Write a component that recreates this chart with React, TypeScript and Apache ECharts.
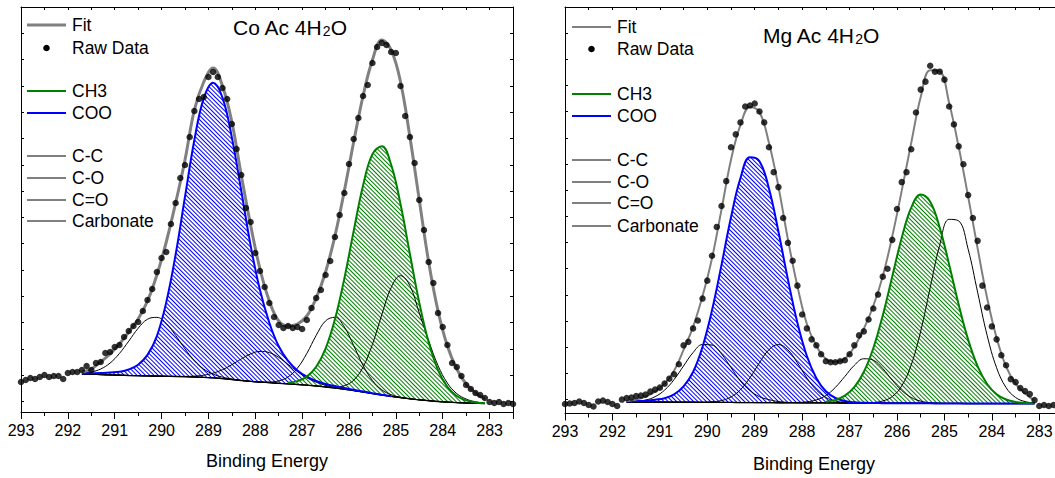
import React, { useEffect, useRef } from "react";
import * as echarts from "echarts";

// ---------- data ----------
// Raw-data energies (eV), 0.1 eV steps
const RAW_E = [
  293.0, 292.9, 292.8, 292.7, 292.6, 292.5, 292.4, 292.3, 292.2, 292.1,
  292.0, 291.9, 291.8, 291.7, 291.6, 291.5, 291.4, 291.3, 291.2, 291.1,
  291.0, 290.9, 290.8, 290.7, 290.6, 290.5, 290.4, 290.3, 290.2, 290.1,
  290.0, 289.9, 289.8, 289.7, 289.6, 289.5, 289.4, 289.3, 289.2, 289.1,
  289.0, 288.9, 288.8, 288.7, 288.6, 288.5, 288.4, 288.3, 288.2, 288.1,
  288.0, 287.9, 287.8, 287.7, 287.6, 287.5, 287.4, 287.3, 287.2, 287.1,
  287.0, 286.9, 286.8, 286.7, 286.6, 286.5, 286.4, 286.3, 286.2, 286.1,
  286.0, 285.9, 285.8, 285.7, 285.6, 285.5, 285.4, 285.3, 285.2, 285.1,
  285.0, 284.9, 284.8, 284.7, 284.6, 284.5, 284.4, 284.3, 284.2, 284.1,
  284.0, 283.9, 283.8, 283.7, 283.6, 283.5, 283.4, 283.3, 283.2, 283.1,
  283.0, 282.9, 282.8, 282.7, 282.6, 282.5,
];

// Fit / component energies (eV), 0.2 eV steps
const FIT_E = [
  291.7, 291.5, 291.3, 291.1, 290.9, 290.7, 290.5, 290.3, 290.1, 289.9,
  289.7, 289.5, 289.3, 289.1, 288.9, 288.7, 288.5, 288.3, 288.1, 287.9,
  287.7, 287.5, 287.3, 287.1, 286.9, 286.7, 286.5, 286.3, 286.1, 285.9,
  285.7, 285.5, 285.3, 285.1, 284.9, 284.7, 284.5, 284.3, 284.1, 283.9,
  283.7, 283.5, 283.3, 283.1,
];

const X_TICKS = [293, 292, 291, 290, 289, 288, 287, 286, 285, 284, 283];
const LEGEND_NAMES = ["Fit", "Raw Data", "CH3", "COO", "C-C", "C-O", "C=O", "Carbonate"];
const TITLE_CO = ["Co Ac 4H", "2", "O"];
const TITLE_MG = ["Mg Ac 4H", "2", "O"];
const X_NAME = "Binding Energy";

// ----- Co acetate panel (intensity, arbitrary units) -----
const CO_RAW = [
  30, 32, 34, 33, 35, 37, 35, 36, 36, 33,
  39, 40, 40, 42, 46, 42, 49, 50, 59, 60,
  65, 67, 75, 81, 86, 90, 101, 112, 123, 140,
  154, 160, 188, 209, 234, 247, 275, 301, 313, 315,
  335, 340, 335, 324, 313, 288, 263, 237, 204, 190,
  159, 141, 125, 109, 95, 87, 84, 86, 84, 85,
  83, 92, 104, 114, 122, 137, 151, 175, 197, 219,
  248, 273, 294, 316, 327, 349, 365, 369, 367, 360,
  359, 326, 296, 275, 249, 212, 182, 150, 129, 99,
  85, 67, 49, 45, 36, 27, 23, 19, 17, 14,
  10, 9, 10, 8, 9, 8,
];
const CO_FIT = [
  40, 43, 50, 58, 68, 80, 93, 111, 137, 170,
  209, 252, 302, 330, 344, 326, 290, 237, 187, 143,
  111, 91, 86, 88, 96, 114, 140, 176, 221, 270,
  316, 352, 372, 362, 330, 275, 212, 150, 101, 66,
  43, 28, 19, 13,
];
const CO_BASE = [
  38, 37.7, 37.4, 37.1, 36.8, 36.5, 36.3, 36.1, 35.9, 35.7,
  35.5, 35.3, 35.0, 34.6, 34.2, 33.4, 32.5, 31.5, 30.6, 29.9,
  29.3, 28.7, 28.1, 27.5, 26.8, 26.0, 25.0, 23.9, 22.7, 21.4,
  20.0, 18.5, 17.0, 15.6, 14.3, 13.2, 12.2, 11.3, 10.5, 9.9,
  9.4, 9.0, 8.7, 8.5,
];
// component heights above the background
const CO_COO = [
  0.5, 1, 1.5, 2.5, 3.5, 6, 11, 21, 40, 74,
  122, 180, 237, 279, 295, 281, 242, 190, 136, 92,
  60, 37, 23, 14, 8.5, 5, 3, 2, 1.2, 0.8,
  0.5, 0.3, 0.2, 0.1, null, null, null, null, null, null,
  null, null, null, null,
];
const CO_CH3 = [
  null, null, null, null, null, null, null, null, null, null,
  null, null, null, null, null, null, null, null, null, null,
  null, null, 1.2, 3.4, 8.6, 19.2, 38.4, 68.9, 110.7, 159.7,
  206.5, 239.4, 248.7, 231.6, 193.4, 144.8, 97.2, 58.4, 31.5, 15.2,
  6.6, 2.6, 0.9, 0.3,
];
const CO_CC = [
  0, 0, 0, 0, 0, 0, 0, 0, 0, 0,
  0, 0, 0, 0, 0, 0, 0, 0, 0, 0,
  0, 0, 0, 0, 0, 0, 0.25, 1.0, 3.6, 10.4,
  24.9, 49.2, 80.4, 108.8, 122, 113, 86.7, 60, 36, 19,
  9, 4, 1.5, 0.5,
];
const CO_CO = [
  0, 0, 0, 0, 0, 0, 0, 0, 0, 0,
  0, 0, 0, 0, 0, 0, 0, 0, 0, 0.2,
  0.7, 2.4, 7.0, 16.4, 31.8, 50.6, 66.1, 70.8, 62.3, 45.0,
  26.6, 13.0, 5.2, 1.7, 0.5, 0.1, 0, 0, 0, 0,
  0, 0, 0, 0,
];
const CO_CDO = [
  0, 0, 0, 0, 0, 0, 0, 0, 0, 0,
  0.1, 0.3, 0.9, 2.2, 4.7, 8.9, 14.8, 21.5, 27.5, 30.7,
  30.1, 25.9, 19.5, 12.9, 7.4, 3.8, 1.7, 0.6, 0.2, 0,
  0, 0, 0, 0, 0, 0, 0, 0, 0, 0,
  0, 0, 0, 0,
];
const CO_CARB = [
  0.8, 2.3, 5.6, 11.8, 21.7, 34.4, 47.4, 56.7, 58.7, 52.8,
  41.1, 27.8, 16.3, 8.3, 3.7, 1.4, 0.5, 0.1, 0, 0,
  0, 0, 0, 0, 0, 0, 0, 0, 0, 0,
  0, 0, 0, 0, 0, 0, 0, 0, 0, 0,
  0, 0, 0, 0,
];

// ----- Mg acetate panel -----
const MG_RAW = [
  9.5, 10, 10.5, 12, 10.5, 8.5, 7, 12, 13, 11.5,
  9.5, 7.5, 14, 15.5, 16, 17.5, 18, 19, 22, 24,
  26, 30, 35, 39.5, 49.5, 68.5, 72, 85.5, 93.5, 115.5,
  133.5, 158.5, 187.5, 208.5, 233.5, 267.5, 280.5, 292.5, 308.5, 309.5,
  311.5, 303.5, 292.5, 267.5, 242.5, 227.5, 196.5, 171.5, 153.5, 128.5,
  99.5, 85.5, 74.5, 68.5, 59.5, 52.5, 51.5, 51.5, 52.5, 53.5,
  59.5, 68.5, 78.5, 82.5, 94.5, 105.5, 119.5, 137.5, 145.5, 174.5,
  205.5, 232.5, 242.5, 265.5, 302.5, 325.5, 333.5, 349.5, 343.5, 343.5,
  335.5, 308.5, 290.5, 268.5, 250.5, 219.5, 196.5, 173.5, 128.5, 106.5,
  87.5, 74.5, 58.5, 48.5, 34.5, 31.5, 25.5, 22.5, 19.5, 13.5,
  7.5, 8.5, 7.5, 8.5, 7.5, 7.5,
];
const MG_FIT = [
  12.5, 14, 17, 22, 30, 43, 64, 87, 118, 156,
  205, 255, 290, 308, 303, 272, 228, 175, 128, 90,
  68, 55, 52, 55, 67, 85, 108, 138, 178, 224,
  272, 318, 345, 344, 312, 268, 218, 166, 116, 76,
  47, 30, 20, 13,
];
const MG_BASE = [
  11.5, 11.5, 11.4, 11.4, 11.4, 11.3, 11.3, 11.3, 11.2, 11.2,
  11.1, 11.1, 11.0, 11.0, 10.9, 10.9, 10.8, 10.8, 10.8, 10.7,
  10.7, 10.6, 10.6, 10.5, 10.5, 10.5, 10.4, 10.4, 10.3, 10.3,
  10.3, 10.2, 10.2, 10.1, 10.1, 10.1, 10, 10, 10, 10,
  10, 10, 10, 10,
];
const MG_COO = [
  0.5, 1, 1.5, 2.5, 4, 8, 16, 30.4, 55.9, 92.7,
  138.3, 186.1, 225.6, 246.4, 242.6, 215.2, 172.1, 124, 80.5, 47.1,
  24.8, 11.8, 5.1, 2, 0.7, 0.3, 0.1, 0, 0, 0,
  0, 0, 0, 0, 0, 0, 0, 0, 0, 0,
  0, 0, 0, 0,
];
const MG_CH3 = [
  null, null, null, null, null, null, null, null, null, null,
  null, null, null, null, null, null, null, null, null, null,
  null, 1.2, 3.1, 7.4, 16.0, 31.2, 55.2, 88.2, 127.4, 166.4,
  196.5, 209.8, 202.5, 176.7, 139.5, 99.5, 64.2, 37.4, 19.7, 9.4,
  4.1, 1.6, 0.6, 0.2,
];
const MG_CC = [
  0, 0, 0, 0, 0, 0, 0, 0, 0, 0,
  0, 0, 0, 0, 0, 0, 0, 0, 0, 0,
  0, 0, 0, 0, 0, 0.1, 0.6, 2.2, 6.7, 17.5,
  38.5, 72.6, 116.3, 158.9, 185.0, 183.5, 155.1, 111.8, 68.6, 35.9,
  16.0, 6.1, 2.0, 0.5,
];
const MG_CO = [
  0, 0, 0, 0, 0, 0, 0, 0, 0, 0,
  0, 0, 0, 0, 0, 0, 0, 0.1, 0.3, 1.0,
  3.0, 7.5, 15.6, 26.7, 37.9, 44.5, 43.2, 34.8, 23.2, 12.8,
  5.8, 2.2, 0.7, 0.2, 0, 0, 0, 0, 0, 0,
  0, 0, 0, 0,
];
const MG_CDO = [
  0, 0, 0, 0, 0, 0, 0, 0, 0.1, 0.6,
  1.9, 5.5, 12.9, 25.0, 40.1, 53.2, 58.5, 53.2, 40.1, 25.0,
  12.9, 5.5, 1.9, 0.6, 0.1, 0, 0, 0, 0, 0,
  0, 0, 0, 0, 0, 0, 0, 0, 0, 0,
  0, 0, 0, 0,
];
const MG_CARB = [
  0.2, 0.7, 2.1, 5.5, 12.1, 22.8, 36.5, 49.9, 58.1, 57.6,
  48.7, 35.1, 21.5, 12, 6, 3, 1.2, 0.4, 0, 0,
  0, 0, 0, 0, 0, 0, 0, 0, 0, 0,
  0, 0, 0, 0, 0, 0, 0, 0, 0, 0,
  0, 0, 0, 0,
];

// ---------- styling ----------
const FONT = '"Liberation Sans", Arial, Helvetica, sans-serif';
const BLUE = "#0000ff";
const GREEN = "#008000";
const GRAY = "#808080";

type Vals = (number | null)[];
interface PanelData {
  raw: number[]; fit: number[]; base: number[];
  coo: Vals; ch3: Vals; cc: Vals; co: Vals; cdo: Vals; carb: Vals;
}

const CO_PANEL: PanelData = { raw: CO_RAW, fit: CO_FIT, base: CO_BASE, coo: CO_COO, ch3: CO_CH3, cc: CO_CC, co: CO_CO, cdo: CO_CDO, carb: CO_CARB };
const MG_PANEL: PanelData = { raw: MG_RAW, fit: MG_FIT, base: MG_BASE, coo: MG_COO, ch3: MG_CH3, cc: MG_CC, co: MG_CO, cdo: MG_CDO, carb: MG_CARB };

function hatchDecal(color: string) {
  return {
    symbol: "rect",
    symbolSize: 1,
    color,
    backgroundColor: "rgba(0,0,0,0)",
    dashArrayX: [1, 0],
    dashArrayY: [1, 2],
    rotation: Math.PI / 4,
  };
}

function panelSeries(p: PanelData, k: number, fitWidth: number) {
  const xi = k * 2;
  const yi = k * 3;
  const last = FIT_E.length - 1;
  const pts = (vals: Vals, withBase: boolean, inner = false) =>
    FIT_E.flatMap((e, i) =>
      vals[i] == null || (inner && (i === 0 || i === last))
        ? []
        : [[-e, withBase ? p.base[i] + (vals[i] as number) : (vals[i] as number)]]
    );
  const common = { type: "line", xAxisIndex: xi, yAxisIndex: yi, smooth: 0.4, symbol: "none", silent: true };
  const hidden = { width: 0, opacity: 0 };
  return [
    {
      ...common, name: "COO area", z: 1, data: pts(p.coo, true, true), lineStyle: hidden,
      itemStyle: { color: BLUE, decal: hatchDecal(BLUE) },
      areaStyle: { color: "#ffffff", opacity: 1, origin: "start" },
    },
    {
      ...common, name: "CH3 area", z: 1, data: pts(p.ch3, true, true), lineStyle: hidden,
      itemStyle: { color: GREEN, decal: hatchDecal(GREEN) },
      areaStyle: { color: "#ffffff", opacity: 1, origin: "start" },
    },
    { ...common, name: "below background", z: 2, data: pts(p.base, false), lineStyle: hidden, areaStyle: { color: "#ffffff", opacity: 1, origin: "start" } },
    { ...common, name: "Background", z: 3, data: pts(p.base, false), lineStyle: { color: "#000", width: 1.3 } },
    { ...common, name: "Carbonate", z: 3, data: pts(p.carb, true), lineStyle: { color: "#000", width: 1 } },
    { ...common, name: "C=O", z: 3, data: pts(p.cdo, true), lineStyle: { color: "#000", width: 1 } },
    { ...common, name: "C-O", z: 3, data: pts(p.co, true), lineStyle: { color: "#000", width: 1 } },
    { ...common, name: "C-C", z: 3, data: pts(p.cc, true), lineStyle: { color: "#000", width: 1 } },
    { ...common, name: "COO", z: 4, data: pts(p.coo, true), lineStyle: { color: BLUE, width: 2 } },
    { ...common, name: "CH3", z: 4, data: pts(p.ch3, true), lineStyle: { color: GREEN, width: 2 } },
    { ...common, name: "Fit", z: 5, data: pts(p.fit, false), lineStyle: { color: GRAY, width: fitWidth } },
    {
      type: "scatter", name: "Raw Data", xAxisIndex: xi, yAxisIndex: yi, z: 6, silent: true,
      symbol: "circle", symbolSize: 6.5, itemStyle: { color: "#000" },
      data: RAW_E.map((e, i) => [-e, p.raw[i]]),
    },
  ];
}

function xAxes(grid: number, nameGap: number) {
  const base = {
    type: "value", gridIndex: grid, min: -293, max: -282.5, z: 10,
    splitLine: { show: false }, minorSplitLine: { show: false },
    axisLine: { show: true, onZero: false, lineStyle: { color: "#000", width: 1 } },
  };
  return [
    {
      ...base, position: "bottom", interval: 1,
      axisTick: { show: true, inside: false, length: 7, lineStyle: { color: "#000" } },
      minorTick: { show: true, splitNumber: 2, length: 4, lineStyle: { color: "#000" } },
      axisLabel: {
        show: true, margin: 10, color: "#000", fontSize: 16, fontFamily: FONT, showMaxLabel: false,
        formatter: (v: number) => {
          const t = X_TICKS.find((n) => Math.abs(n + v) < 1e-6);
          return t == null ? "" : String(t);
        },
      },
      name: X_NAME, nameLocation: "middle", nameGap,
      nameTextStyle: { fontSize: 18, color: "#000", fontFamily: FONT },
    },
    {
      ...base, position: "top", interval: 0.5,
      axisTick: { show: true, inside: true, length: 3, lineStyle: { color: "#000" } },
      axisLabel: { show: false },
    },
  ];
}

function yAxes(grid: number, max: number, tickStep: number) {
  const base = {
    type: "value", gridIndex: grid, min: 0, max, z: 10,
    splitLine: { show: false }, axisLabel: { show: false },
  };
  return [
    { ...base, position: "left", axisLine: { show: true, onZero: false, lineStyle: { color: "#000" } }, axisTick: { show: false } },
    { ...base, position: "left", inverse: true, interval: tickStep, axisLine: { show: false, onZero: false }, axisTick: { show: true, inside: true, length: 3, lineStyle: { color: "#000" } } },
    { ...base, position: "right", inverse: true, interval: tickStep, axisLine: { show: true, onZero: false, lineStyle: { color: "#000" } }, axisTick: { show: true, inside: true, length: 3, lineStyle: { color: "#000" } } },
  ];
}

function legendGraphics(x1: number, x2: number, tx: number, ys: number[], fitWidth: number) {
  const els: any[] = [];
  const colors = [GRAY, "#000", GREEN, BLUE, "#000", "#000", "#000", "#000"];
  const widths = [fitWidth, 0, 2, 2, 1, 1, 1, 1];
  LEGEND_NAMES.forEach((name, i) => {
    const y = ys[i];
    if (i === 1) {
      els.push({ type: "circle", silent: true, shape: { cx: (x1 + x2) / 2, cy: y, r: 3.3 }, style: { fill: "#000" } });
    } else {
      els.push({ type: "line", silent: true, shape: { x1, y1: y, x2, y2: y }, style: { stroke: colors[i], lineWidth: widths[i] } });
    }
    els.push({
      type: "text", silent: true, x: tx, y,
      style: { text: name, fill: "#000", fontSize: 17.5, fontFamily: FONT, align: "left", verticalAlign: "middle" },
    });
  });
  return els;
}

function titleGraphic(parts: string[], x: number, y: number) {
  return {
    type: "text", silent: true, x, y,
    style: {
      text: `{a|${parts[0]}}{b|${parts[1]}}{a|${parts[2]}}`,
      rich: {
        a: { fontSize: 21, fontFamily: FONT, fill: "#000" },
        b: { fontSize: 14, fontFamily: FONT, fill: "#000", verticalAlign: "bottom" },
      },
      align: "left", verticalAlign: "middle",
    },
  };
}

export default function App() {
  const ref = useRef<HTMLDivElement>(null);
  useEffect(() => {
    if (!ref.current) return;
    const chart = echarts.init(ref.current, null, { renderer: "svg", width: 1075, height: 478 });
    const option: any = {
      animation: false,
      backgroundColor: "#ffffff",
      textStyle: { fontFamily: FONT },
      grid: [
        { left: 21, top: 7, width: 492, height: 405 },
        { left: 565, top: 7, width: 498, height: 408.5 },
      ],
      xAxis: [...xAxes(0, 40), ...xAxes(1, 41.5)],
      yAxis: [...yAxes(0, 405, 26.3), ...yAxes(1, 408.5, 26.3)],
      series: [...panelSeries(CO_PANEL, 0, 3), ...panelSeries(MG_PANEL, 1, 2)],
      graphic: {
        elements: [
          ...legendGraphics(27, 66, 72, [25, 48, 91, 113, 156, 178, 200, 221], 3),
          ...legendGraphics(572, 611, 617, [27, 49, 94, 116, 160, 182, 203, 226], 2),
          titleGraphic(TITLE_CO, 233, 27),
          titleGraphic(TITLE_MG, 763, 35),
        ],
      },
    };
    chart.setOption(option);
    return () => chart.dispose();
  }, []);
  return (
    <div style={{ position: "fixed", left: 0, top: 0, width: 1055, height: 478, overflow: "hidden", background: "#fff" }}>
      <div ref={ref} style={{ width: 1075, height: 478 }} />
    </div>
  );
}
